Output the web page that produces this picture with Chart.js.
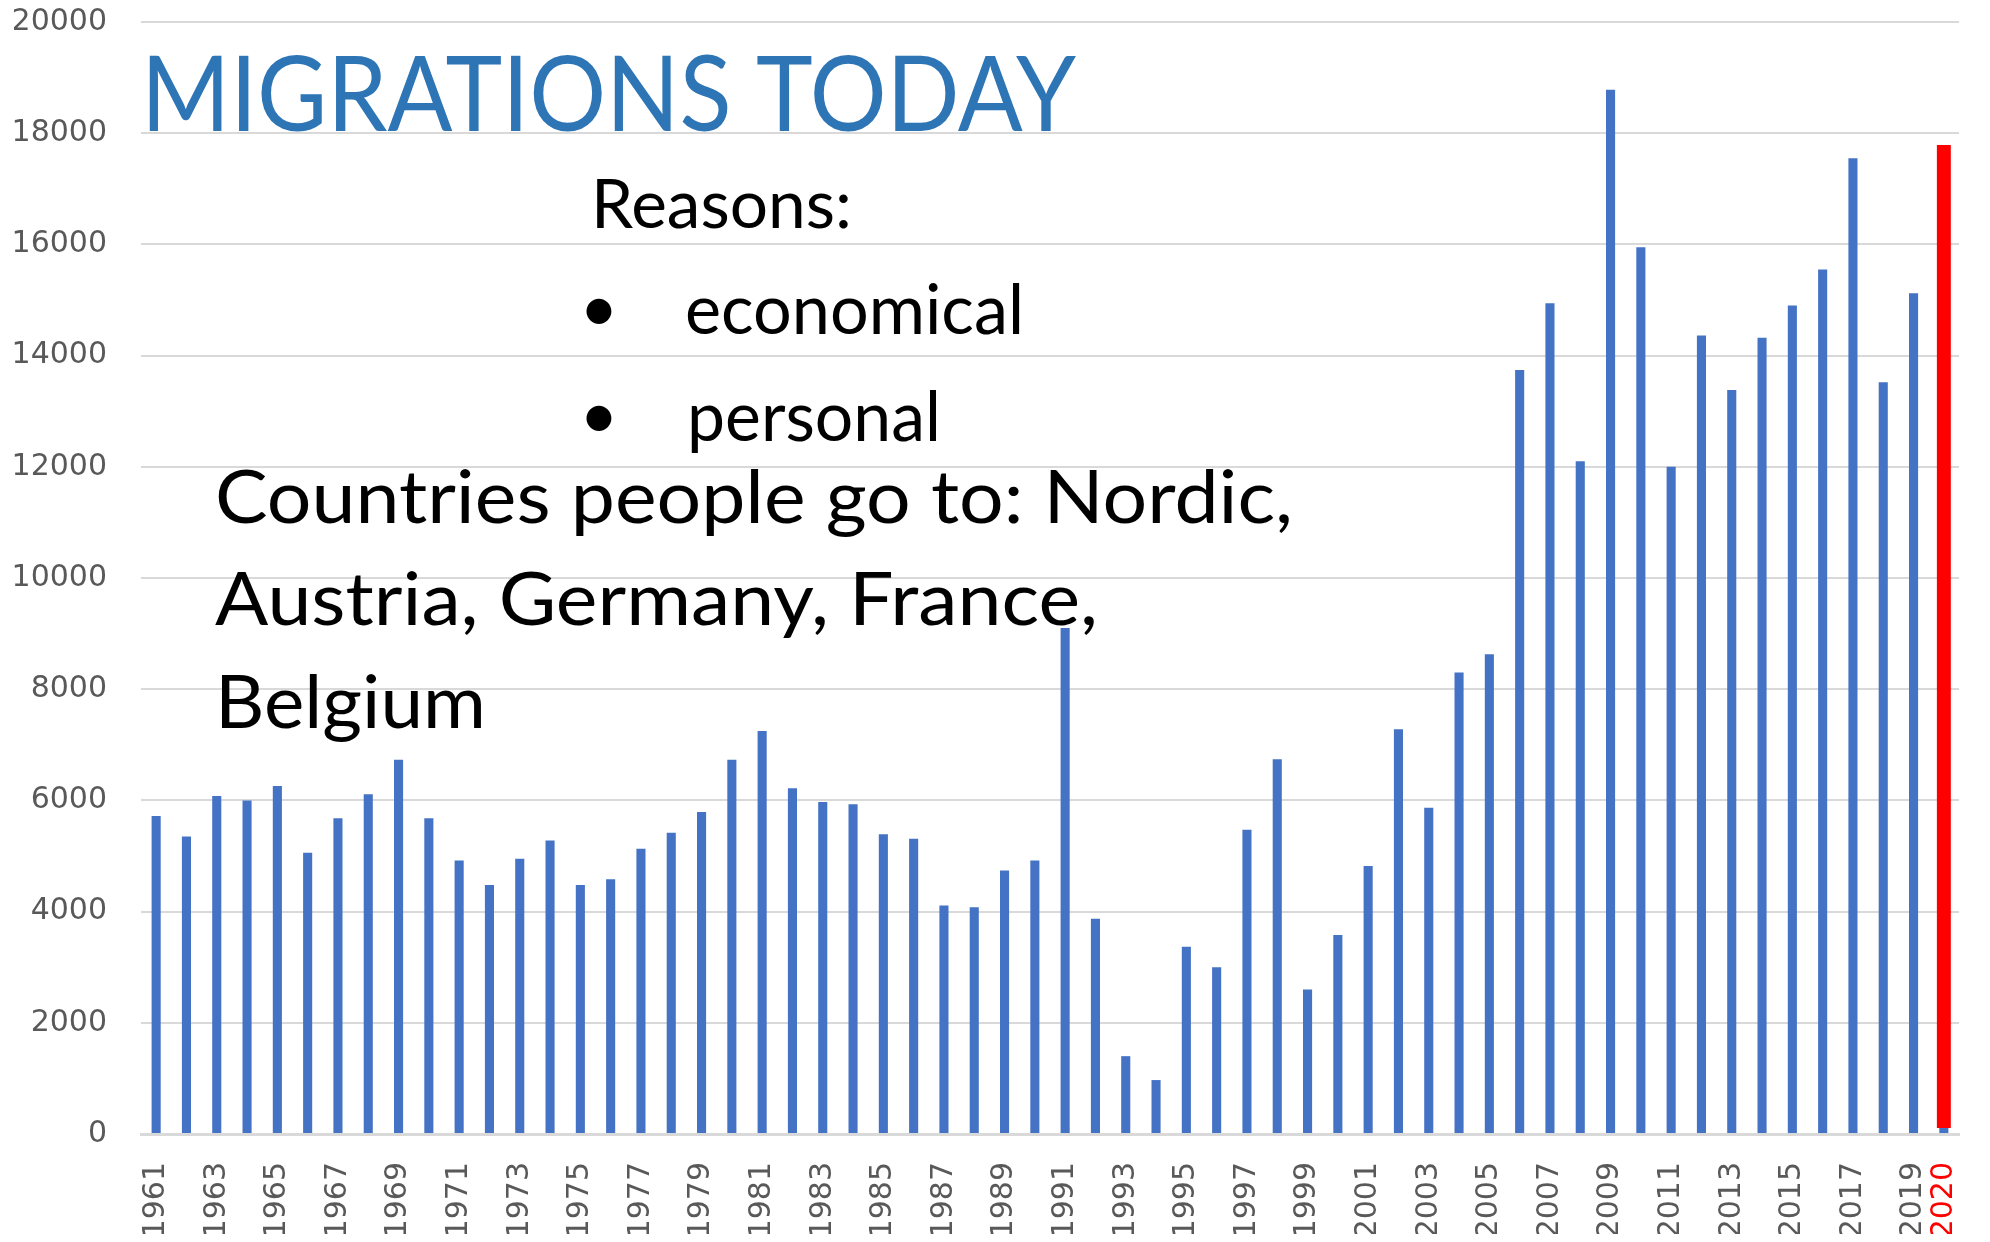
<!DOCTYPE html>
<html>
<head>
<meta charset="utf-8">
<title>Migrations today</title>
<script src="https://cdn.jsdelivr.net/npm/chart.js@4.4.1/dist/chart.umd.min.js"></script>
<style>
    html, body { margin: 0; padding: 0; background: #ffffff; overflow: hidden; }
    #wrap { position: relative; width: 1990px; height: 1242px; }
</style>
</head>
<body>
<div id="wrap"><canvas id="migrationChart"></canvas></div>
<script>
// Years on the category axis
const years = [
    '1961', '1962', '1963', '1964', '1965', '1966', '1967', '1968', '1969', '1970',
    '1971', '1972', '1973', '1974', '1975', '1976', '1977', '1978', '1979', '1980',
    '1981', '1982', '1983', '1984', '1985', '1986', '1987', '1988', '1989', '1990',
    '1991', '1992', '1993', '1994', '1995', '1996', '1997', '1998', '1999', '2000',
    '2001', '2002', '2003', '2004', '2005', '2006', '2007', '2008', '2009', '2010',
    '2011', '2012', '2013', '2014', '2015', '2016', '2017', '2018', '2019', '2020'
];

// Emigrants per year
const emigrants = [
    5720, 5350, 6080, 6000, 6260, 5060, 5680, 6110, 6730, 5680,
    4920, 4480, 4950, 5280, 4480, 4580, 5130, 5420, 5790, 6730,
    7250, 6220, 5970, 5930, 5390, 5310, 4110, 4080, 4740, 4920,
    9100, 3870, 1400, 970, 3370, 3000, 5470, 6740, 2600, 3580,
    4820, 7280, 5870, 8300, 8630, 13740, 14940, 12100, 18780, 15950,
    12000, 14360, 13380, 14320, 14900, 15550, 17550, 13520, 15120, 17710
];

// Red highlight drawn over the last year (floating bar: from / to)
const highlight2020 = [110, 17790];
const highlightYear = '2020';

// Y axis ticks
const yMin = 0;
const yMax = 20000;
const yStep = 2000;

const highlightData = years.map(y => (y === highlightYear ? highlight2020 : null));

// Slide text laid over the chart
const overlayTexts = [
    { text: 'MIGRATIONS TODAY', x: 141, y: 131, size: 105, width: 935, color: '#2E75B6' },
    { text: 'Reasons:', x: 591, y: 228, size: 67, width: 261, color: '#000000' },
    { text: '\u2022', x: 599, y: 332, size: 67, color: '#000000', center: true },
    { text: 'economical', x: 685, y: 334, size: 70, width: 339, color: '#000000' },
    { text: '\u2022', x: 599, y: 439, size: 67, color: '#000000', center: true },
    { text: 'personal', x: 687, y: 441, size: 70, width: 254, color: '#000000' },
    { text: 'Countries people go to: Nordic,', x: 215, y: 523, size: 74, width: 1078, color: '#000000' },
    { text: 'Austria, Germany, France,', x: 215, y: 625, size: 74, width: 883, color: '#000000' },
    { text: 'Belgium', x: 215, y: 728, size: 74, width: 271, color: '#000000' }
];

const overlayPlugin = {
    id: 'slideText',
    afterDatasetsDraw(chart) {
        const ctx = chart.ctx;
        ctx.save();
        ctx.textBaseline = 'alphabetic';
        overlayTexts.forEach(t => {
            ctx.font = `${t.size}px Lato, "Open Sans", sans-serif`;
            ctx.fillStyle = t.color;
            ctx.save();
            ctx.translate(t.x, t.y);
            if (t.center) {
                ctx.textAlign = 'center';
            } else {
                ctx.textAlign = 'left';
                const w = ctx.measureText(t.text).width;
                ctx.scale(t.width / w, 1);
            }
            ctx.fillText(t.text, 0, 0);
            ctx.restore();
        });
        ctx.restore();
    }
};

const gray = '#595959';
const gridGray = '#D9D9D9';

new Chart(document.getElementById('migrationChart'), {
    type: 'bar',
    data: {
        labels: years,
        datasets: [
            {
                label: 'Highlight',
                data: highlightData,
                backgroundColor: '#FF0000',
                barPercentage: 0.46,
                categoryPercentage: 1,
                grouped: false,
                order: 0
            },
            {
                label: 'Emigrants',
                data: emigrants,
                backgroundColor: '#4472C4',
                barPercentage: 0.3,
                categoryPercentage: 1,
                grouped: false,
                order: 1
            }
        ]
    },
    options: {
        responsive: true,
        maintainAspectRatio: false,
        animation: false,
        layout: {
            padding: { left: 14, right: 31, top: 0, bottom: 8 }
        },
        plugins: {
            legend: { display: false },
            tooltip: { enabled: false }
        },
        scales: {
            x: {
                grid: { display: false, drawTicks: false },
                border: { display: true, color: gridGray, width: 3 },
                // fixed axis band so the plot area lines up with the slide
                afterFit: scale => {
                    scale.height = 100;
                    scale.paddingLeft = 0;
                    scale.paddingRight = 0;
                },
                ticks: {
                    autoSkip: false,
                    maxRotation: 90,
                    minRotation: 90,
                    padding: 28,
                    font: { family: 'DejaVu Sans', size: 30 },
                    color: ctx => (years[ctx.index] === highlightYear ? '#FF0000' : gray),
                    callback: function(value, index) {
                        const y = years[index];
                        return (Number(y) % 2 === 1 || y === highlightYear) ? y : '';
                    }
                }
            },
            y: {
                min: yMin,
                max: yMax,
                grid: { color: gridGray, lineWidth: 2, drawTicks: false },
                border: { display: false },
                afterFit: scale => {
                    scale.width = 127;
                    scale.paddingTop = 22;
                    scale.paddingBottom = 0;
                },
                ticks: {
                    stepSize: yStep,
                    padding: 34,
                    font: { family: 'DejaVu Sans', size: 30 },
                    color: gray,
                    callback: value => String(value)
                }
            }
        }
    },
    plugins: [overlayPlugin]
});
</script>
</body>
</html>
